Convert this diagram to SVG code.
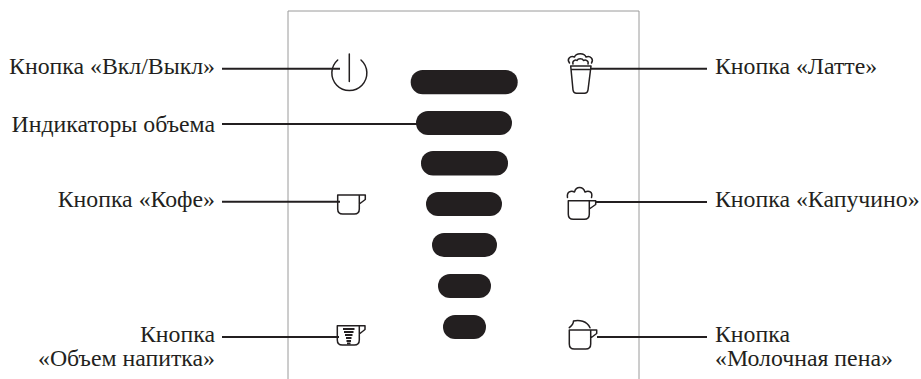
<svg xmlns="http://www.w3.org/2000/svg" width="921" height="379" viewBox="0 0 921 379">
<style>
text{font-family:"Liberation Serif","Times New Roman",serif;font-size:23.800px;fill:#231f20}
.e{text-anchor:end}
.c{fill:none;stroke:#231f20;stroke-width:2}
.i{fill:none;stroke:#231f20;stroke-width:1.500;stroke-linejoin:round;stroke-linecap:round}
.b{fill:#231f20}
</style>
<rect width="921" height="379" fill="#fff"/>
<path id="panel" d="M288 379V11H639V379" fill="none" stroke="#9a9a9a" stroke-width="1"/>
<g id="connectors">
<path class="c" d="M222 68.700H340M222 124H417M222 201.700H340M222 337H339M591 68.700H707M595 202H707M597 337H707"/>
</g>
<g id="power"><path class="i" d="M337.700 60A17.500 17.500 0 1 0 361 60M349.300 54V81.500"/></g>
<g id="latte"><path class="i" d="M570.700 66H591L588 90Q587.500 93.300 584.500 93.300H576.500Q573.500 93.300 573 90ZM572 69.500H589.500M569.500 63C566.500 59 570 55.500 574.500 57C576 52.500 584.500 52.500 586 57C590.500 55.500 594 59 591.500 63M573 64C572 60.500 575.500 59.500 577 60.500C578 58 582.500 58 583.500 60.500C585.500 59.500 589 60.500 588 64"/></g>
<g id="indicators">
<rect class="b" x="410.700" y="70" width="107" height="24.300" rx="12"/>
<rect class="b" x="416" y="111" width="96" height="24" rx="12"/>
<rect class="b" x="421" y="151" width="87" height="24.500" rx="12"/>
<rect class="b" x="426" y="192" width="76" height="24" rx="12"/>
<rect class="b" x="432" y="233" width="65" height="24" rx="12"/>
<rect class="b" x="438" y="274" width="53" height="24" rx="12"/>
<rect class="b" x="443" y="315" width="43" height="24" rx="12"/>
</g>
<g id="coffee"><path class="i" d="M337.700 195H359.300V209Q359.300 214 354.300 214H342.700Q337.700 214 337.700 209ZM359.300 195H365.300V199.500L359.300 204"/></g>
<g id="cappuccino"><path class="i" d="M568.300 200.700H589.300V214.300Q589.300 219.300 584.300 219.300H573.300Q568.300 219.300 568.300 214.300ZM589.300 200.700H595.700V204.500L589.300 209M567.500 197.500C566.500 192 571 190 574.500 192C576 186 583 186 585 192C589 190 593 192 591.500 197.500"/></g>
<g id="volume"><path class="i" d="M337.300 325.700H359.300V340Q359.300 345 354.300 345H342.300Q337.300 345 337.300 340ZM359.300 325.700H365V329.500L359.300 334"/><path d="M343 329H354.500M344 332H353.500M345 335H352.500M346 338H351.500M346.500 341H351M347 343.500H350.500" fill="none" stroke="#231f20" stroke-width="1.800"/></g>
<g id="foam"><path class="i" d="M569.300 330H590.700V344Q590.700 349 585.700 349H574.300Q569.300 349 569.300 344ZM590.700 330H596.700V333.500L590.700 338M569.300 327.700C572 325.500 573.500 324 573.500 321C579 319.500 587 321 590 327.700"/></g>
<g id="labels">
<text class="e" x="215" y="74">Кнопка «Вкл/Выкл»</text>
<text class="e" x="215" y="131.700">Индикаторы объема</text>
<text class="e" x="215" y="206.700">Кнопка «Кофе»</text>
<text class="e" x="215" y="342.300">Кнопка</text>
<text class="e" x="215" y="366">«Объем напитка»</text>
<text x="715" y="74">Кнопка «Латте»</text>
<text x="715" y="206.700">Кнопка «Капучино»</text>
<text x="715" y="342.300">Кнопка</text>
<text x="715" y="366">«Молочная пена»</text>
</g>
</svg>
